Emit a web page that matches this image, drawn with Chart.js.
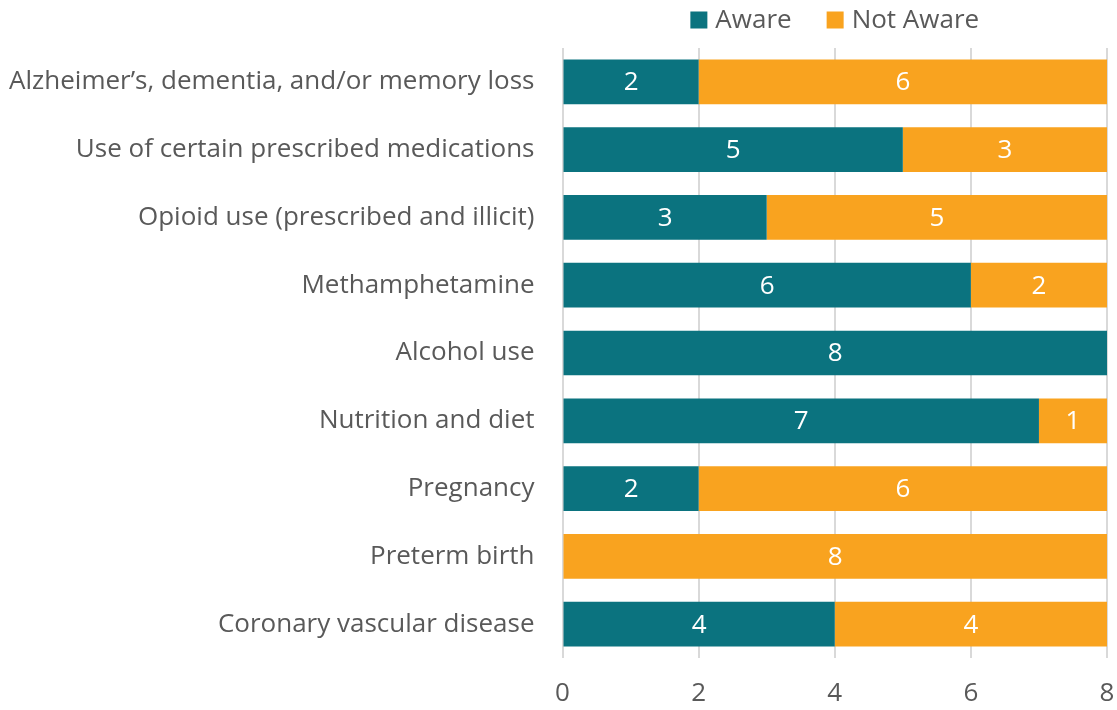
<!DOCTYPE html>
<html>
<head>
<meta charset="utf-8">
<script src="https://cdn.jsdelivr.net/npm/chart.js@4"></script>
<style>
  html, body { margin: 0; padding: 0; background: #fff; }
  #wrap { width: 1117px; height: 710px; }
</style>
</head>
<body>
<div id="wrap"><canvas id="bar-chart"></canvas></div>
<script>
const categories = [
  "Alzheimer’s, dementia, and/or memory loss",
  "Use of certain prescribed medications",
  "Opioid use (prescribed and illicit)",
  "Methamphetamine",
  "Alcohol use",
  "Nutrition and diet",
  "Pregnancy",
  "Preterm birth",
  "Coronary vascular disease"
];
const aware = [2, 5, 3, 6, 8, 7, 2, 0, 4];
const notAware = [6, 3, 5, 2, 0, 1, 6, 8, 4];

const textGray = "#595959";
const fontFamily = "'Open Sans', sans-serif";

// white value labels in the middle of each segment
const barLabels = {
  id: "barLabels",
  afterDatasetsDraw(chart) {
    const ctx = chart.ctx;
    ctx.save();
    ctx.fillStyle = "#fff";
    ctx.font = "26px " + fontFamily;
    ctx.textAlign = "center";
    ctx.textBaseline = "middle";
    chart.data.datasets.forEach((ds, i) => {
      chart.getDatasetMeta(i).data.forEach((bar, j) => {
        if (!ds.data[j]) return;
        const x = (bar.x + bar.base) / 2;
        ctx.fillText(ds.data[j], x, bar.y + 1);
      });
    });
    ctx.restore();
  }
};

// legend centred above the plot area
const topLegend = {
  id: "topLegend",
  afterDraw(chart) {
    const ctx = chart.ctx;
    const area = chart.chartArea;
    ctx.save();
    ctx.font = "26px " + fontFamily;
    ctx.textBaseline = "middle";
    const box = 17, gap = 8, spacing = 35;
    const items = chart.data.datasets.map(ds => ({
      text: ds.label, color: ds.backgroundColor,
      w: box + gap + ctx.measureText(ds.label).width
    }));
    const total = items.reduce((s, it) => s + it.w, 0) + spacing * (items.length - 1);
    let x = (area.left + area.right) / 2 - total / 2;
    const y = 20;
    items.forEach(it => {
      ctx.fillStyle = it.color;
      ctx.fillRect(x, y - box / 2, box, box);
      ctx.fillStyle = textGray;
      ctx.fillText(it.text, x + box + gap, y + 1);
      x += it.w + spacing;
    });
    ctx.restore();
  }
};

const data_bar = {
  labels: categories,
  datasets: [
    {
      label: "Aware",
      data: aware,
      backgroundColor: "#0B737F",
      categoryPercentage: 1,
      barPercentage: 0.66
    },
    {
      label: "Not Aware",
      data: notAware,
      backgroundColor: "#F9A31F",
      categoryPercentage: 1,
      barPercentage: 0.66
    }
  ]
};

const config_bar = {
  type: "bar",
  data: data_bar,
  options: {
    indexAxis: "y",
    responsive: true,
    maintainAspectRatio: false,
    animation: false,
    layout: { padding: { top: 48, right: 0, left: 8, bottom: 0 } },
    plugins: {
      legend: { display: false },
      tooltip: { enabled: false }
    },
    scales: {
      x: {
        stacked: true,
        min: 0,
        max: 8,
        afterFit(scale) {
          scale.height = 52;
          scale.paddingRight = 10;
        },
        ticks: {
          stepSize: 2,
          color: textGray,
          font: { family: fontFamily, size: 26 },
          padding: 20
        },
        grid: { color: "#D9D9D9", lineWidth: 2, drawTicks: false },
        border: { display: false }
      },
      y: {
        stacked: true,
        afterFit(scale) {
          scale.paddingTop = 0;
          scale.paddingBottom = 0;
        },
        ticks: {
          color: textGray,
          font: { family: fontFamily, size: 26 },
          padding: 28
        },
        grid: { display: false, drawTicks: false },
        border: { display: false }
      }
    }
  },
  plugins: [barLabels, topLegend]
};

var ctx_bar = document.getElementById("bar-chart").getContext("2d");
var myChart_bar = new Chart(ctx_bar, config_bar);
</script>
</body>
</html>
